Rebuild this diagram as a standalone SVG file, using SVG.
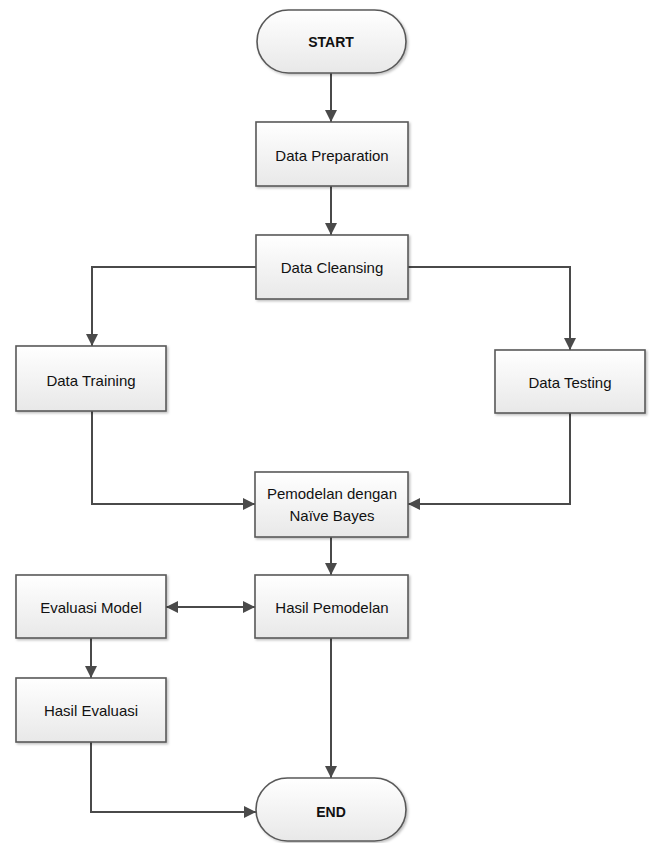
<svg xmlns="http://www.w3.org/2000/svg" width="651" height="843" viewBox="0 0 651 843">
<style>
.box{fill:url(#g);stroke:#595959;stroke-width:1.6;filter:url(#sh)}
.t{font-family:"Liberation Sans",Arial,sans-serif;font-size:15px;fill:#111;text-anchor:middle;dominant-baseline:central}
.b{font-weight:bold;font-size:14px}
.c{fill:none;stroke:#4a4a4a;stroke-width:2}
</style>
<defs>
<linearGradient id="g" x1="0" y1="0" x2="0" y2="1">
<stop offset="0" stop-color="#ffffff"/>
<stop offset="1" stop-color="#e8e8e8"/>
</linearGradient>
<filter id="sh" x="-10%" y="-10%" width="130%" height="130%">
<feDropShadow dx="1.5" dy="1.5" stdDeviation="1" flood-color="#000" flood-opacity="0.25"/>
</filter>
<marker id="a" viewBox="0 0 10 10" refX="10" refY="5" markerWidth="12" markerHeight="12" markerUnits="userSpaceOnUse" orient="auto-start-reverse">
<path d="M0,0 L10,5 L0,10 z" fill="#4a4a4a"/>
</marker>
</defs>
<rect width="651" height="843" fill="#fff"/>
<g id="connectors">
<path class="c" d="M331,73 V122" marker-end="url(#a)"/>
<path class="c" d="M331,186 V235" marker-end="url(#a)"/>
<path class="c" d="M256,267 H92 V346" marker-end="url(#a)"/>
<path class="c" d="M408,267 H570 V350" marker-end="url(#a)"/>
<path class="c" d="M92,411 V504 H255" marker-end="url(#a)"/>
<path class="c" d="M570,413 V504 H408" marker-end="url(#a)"/>
<path class="c" d="M331,537 V575" marker-end="url(#a)"/>
<path class="c" d="M166,607 H255" marker-start="url(#a)" marker-end="url(#a)"/>
<path class="c" d="M91,638 V678" marker-end="url(#a)"/>
<path class="c" d="M91,742 V812 H256" marker-end="url(#a)"/>
<path class="c" d="M331,638 V778" marker-end="url(#a)"/>
</g>
<g id="start"><rect class="box" x="257" y="10" width="149" height="63" rx="31.5"/><text class="t b" x="331" y="42">START</text></g>
<g id="data-preparation"><rect class="box" x="256" y="122" width="152" height="64"/><text class="t" x="332" y="155">Data Preparation</text></g>
<g id="data-cleansing"><rect class="box" x="256" y="235" width="152" height="64"/><text class="t" x="332" y="267">Data Cleansing</text></g>
<g id="data-training"><rect class="box" x="16" y="346" width="150" height="65"/><text class="t" x="91" y="380">Data Training</text></g>
<g id="data-testing"><rect class="box" x="495" y="350" width="150" height="63"/><text class="t" x="570" y="382">Data Testing</text></g>
<g id="pemodelan"><rect class="box" x="255" y="472" width="153" height="65"/><text class="t" x="332" y="493">Pemodelan dengan</text><text class="t" x="332" y="515">Naïve Bayes</text></g>
<g id="hasil-pemodelan"><rect class="box" x="255" y="575" width="153" height="63"/><text class="t" x="332" y="607">Hasil Pemodelan</text></g>
<g id="evaluasi-model"><rect class="box" x="16" y="575" width="150" height="63"/><text class="t" x="91" y="607">Evaluasi Model</text></g>
<g id="hasil-evaluasi"><rect class="box" x="16" y="678" width="150" height="64"/><text class="t" x="91" y="710">Hasil Evaluasi</text></g>
<g id="end"><rect class="box" x="256" y="778" width="150" height="63" rx="31.5"/><text class="t b" x="331" y="812">END</text></g>
</svg>
